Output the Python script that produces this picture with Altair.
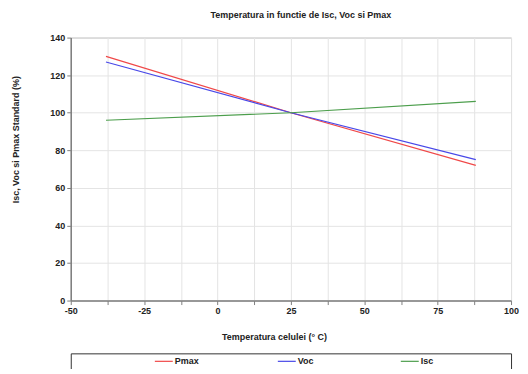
import altair as alt
import pandas as pd

temps = [-38, 25, 88]
pmax = [130, 100, 72]
voc = [127, 100, 75]
isc = [96, 100, 106]
series = ["Pmax", "Voc", "Isc"]
colors = ["#f04848", "#4848e8", "#4c9e4c"]
x_ticks = [-50, -37.5, -25, -12.5, 0, 12.5, 25, 37.5, 50, 62.5, 75, 87.5, 100]
y_ticks = [0, 20, 40, 60, 80, 100, 120, 140]

rows = []
for name, vals in zip(series, [pmax, voc, isc]):
    for t, v in zip(temps, vals):
        rows.append({"Temp": t, "Value": v, "Series": name})
df = pd.DataFrame(rows)

font = "Liberation Sans"
txtc = "#222222"
color_scale = alt.Scale(domain=series, range=colors)

main = alt.Chart(
    df,
    title=alt.Title("Temperatura in functie de Isc, Voc si Pmax", fontSize=9, font=font,
                    fontWeight="bold", color=txtc, dx=10, offset=14),
).mark_line(strokeWidth=1.2).encode(
    x=alt.X("Temp:Q", scale=alt.Scale(domain=[-50, 100], nice=False),
            axis=alt.Axis(values=x_ticks,
                          labelExpr="datum.value % 25 == 0 ? '' + datum.value : ''",
                          labelOverlap=False, labelFlush=False,
                          title="Temperatura celulei (° C)", titleX=204, titleY=36,
                          titleBaseline="middle", titleAlign="center")),
    y=alt.Y("Value:Q", scale=alt.Scale(domain=[0, 140], nice=False),
            axis=alt.Axis(values=y_ticks, title="Isc, Voc si Pmax Standard (%)",
                          titleX=-55, titleY=102, titleBaseline="middle",
                          titleAlign="center", titleAngle=-90)),
    color=alt.Color("Series:N", scale=color_scale, legend=None),
).properties(width=442, height=264, view=alt.ViewBackground(stroke="#b0b0b0"))

leg_df = pd.DataFrame({"Series": series})
base = alt.Chart(leg_df).encode(
    x=alt.X("Series:N", sort=series,
            scale=alt.Scale(domain=series, type="point", padding=0.79, align=0.525),
            axis=None),
    color=alt.Color("Series:N", scale=color_scale, legend=None),
)
sym = base.mark_point(shape="stroke", size=324, strokeWidth=1.2, filled=False,
                      xOffset=-9, opacity=1)
lab = base.mark_text(align="left", dx=2, font=font, fontSize=9, fontWeight="bold").encode(
    text="Series:N", color=alt.value(txtc))
legend = alt.layer(sym, lab).properties(width=442, height=16,
                                         view=alt.ViewBackground(stroke="#333333"))

chart = alt.vconcat(main, legend, spacing=10).configure(
    padding={"left": 3, "top": 1, "right": 0, "bottom": -2},
    font=font,
).configure_axis(
    labelFont=font, labelFontSize=9, labelFontWeight="bold", labelColor=txtc,
    titleFont=font, titleFontSize=9, titleFontWeight="bold", titleColor=txtc,
    gridColor="#e4e4e4", domainColor="#808080", domainWidth=1.5,
    tickColor="#808080", tickSize=4, labelPadding=2,
)

chart.save("out.html", embed_options={"renderer": "svg", "actions": False})
